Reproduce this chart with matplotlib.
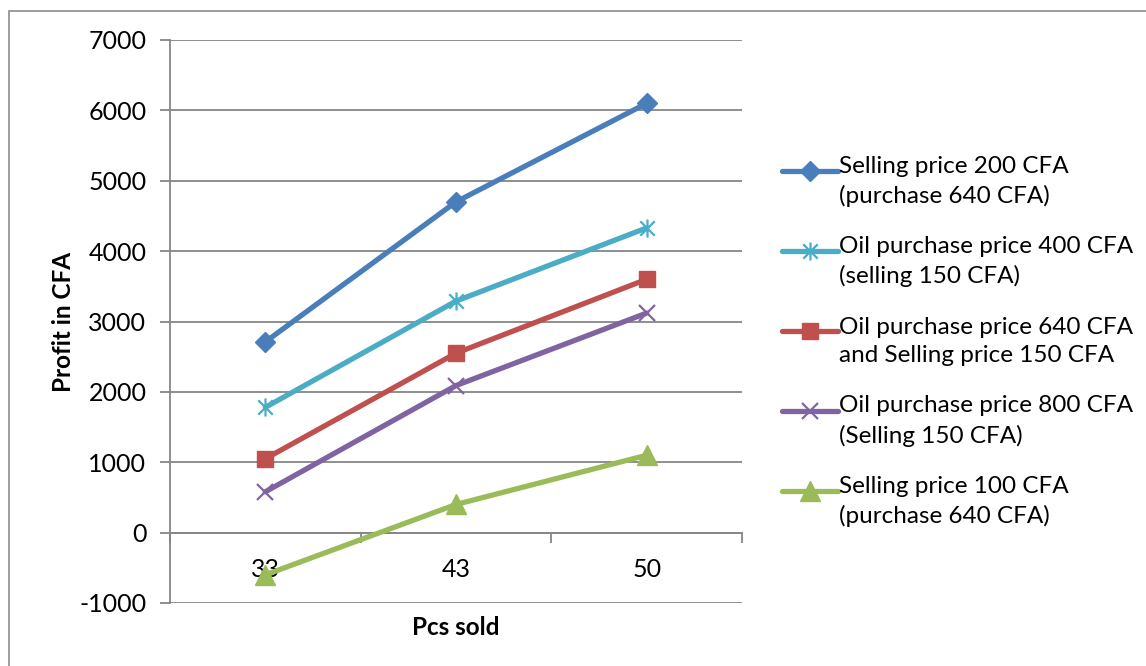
import matplotlib
matplotlib.use("Agg")
import matplotlib.pyplot as plt
from matplotlib.path import Path
from matplotlib.patches import Rectangle
from matplotlib.legend_handler import HandlerLine2D

plt.rcParams['font.family'] = ['Lato', 'DejaVu Sans']

categories = ["33", "43", "50"]
series_labels = [
    "Selling price 200 CFA\n(purchase 640 CFA)",
    "Oil purchase price 400 CFA\n(selling 150 CFA)",
    "Oil purchase price 640 CFA\nand Selling price 150 CFA",
    "Oil purchase price 800 CFA\n(Selling 150 CFA)",
    "Selling price 100 CFA\n(purchase 640 CFA)",
]
sell200_buy640 = [2710, 4700, 6100]
buy400_sell150 = [1780, 3290, 4330]
buy640_sell150 = [1050, 2550, 3600]
buy800_sell150 = [580, 2090, 3120]
sell100_buy640 = [-600, 400, 1100]
y_ticks = [-1000, 0, 1000, 2000, 3000, 4000, 5000, 6000, 7000]

# Excel-style "star" marker: an X with a vertical bar
star = Path([(-1, -1), (1, 1), (-1, 1), (1, -1), (0, -1.25), (0, 1.25)],
            [Path.MOVETO, Path.LINETO, Path.MOVETO, Path.LINETO, Path.MOVETO, Path.LINETO])

styles = [
    dict(color="#4A7EBB", marker="D", ms=10),
    dict(color="#4BACC6", marker=star, ms=13, mfc="none", mew=1.6),
    dict(color="#C0504D", marker="s", ms=12),
    dict(color="#8064A2", marker="x", ms=12, mew=1.6),
    dict(color="#9BBB59", marker="^", ms=14.5),
]
data = [sell200_buy640, buy400_sell150, buy640_sell150, buy800_sell150, sell100_buy640]


class FirstLineHandler(HandlerLine2D):
    """Legend key aligned with the first line of a two-line label."""
    def create_artists(self, legend, orig_handle, xdescent, ydescent, width, height,
                       fontsize, trans):
        return super().create_artists(legend, orig_handle, xdescent, ydescent - 15,
                                       width, height, fontsize, trans)


fig = plt.figure(figsize=(11.46, 6.66), dpi=100)
fig.patches.append(Rectangle((9 / 1146, -0.1), 1.2, 1 - 11 / 666 + 0.1, transform=fig.transFigure,
                             fill=False, edgecolor="#8c8c8c", lw=1.2))
ax = fig.add_axes([170 / 1146, 1 - 603 / 666, 572 / 1146, 563 / 666])

x = list(range(len(categories)))
handles = []
for vals, lab, st in zip(data, series_labels, styles):
    h, = ax.plot(x, vals, lw=3.8, label=lab, solid_capstyle="round", zorder=3, **st)
    handles.append(h)

ax.set_xlim(-0.5, 2.5)
ax.set_ylim(-1000, 7000)
ax.set_yticks(y_ticks)
ax.set_yticklabels([str(v) for v in y_ticks])
ax.yaxis.grid(True, color="#868686", lw=1.3)
ax.set_axisbelow(True)

for s in ("top", "right"):
    ax.spines[s].set_visible(False)
ax.spines["left"].set_color("#868686")
ax.spines["left"].set_linewidth(1.3)
ax.spines["bottom"].set_position(("data", 0))
ax.spines["bottom"].set_color("#868686")
ax.spines["bottom"].set_linewidth(1.3)

ax.set_xticks(x)
ax.set_xticklabels(categories)
ax.set_xticks([-0.5, 0.5, 1.5, 2.5], minor=True)
ax.tick_params(axis="x", which="major", length=0, pad=18, labelsize=18)
ax.tick_params(axis="x", which="minor", length=7, width=1.3, color="#868686", direction="out")
ax.tick_params(axis="y", length=7, width=1.3, color="#868686", labelsize=18, pad=10)

ax.set_ylabel("Profit in CFA", fontsize=17.5, fontweight="bold", labelpad=3)
ax.text(0.5, -0.023, "Pcs sold", transform=ax.transAxes, ha="center", va="top",
        fontsize=17.5, fontweight="bold")

leg = fig.legend(handles=handles, loc="upper left",
                 bbox_to_anchor=(772 / 1146, 1 - 146 / 666), frameon=False,
                 fontsize=17.5, handlelength=2.3, handletextpad=0.05, labelspacing=1.2,
                 borderaxespad=0, handler_map={h: FirstLineHandler() for h in handles})
for t in leg.get_texts():
    t.set_linespacing(1.45)

fig.savefig("out.png", dpi=100)
